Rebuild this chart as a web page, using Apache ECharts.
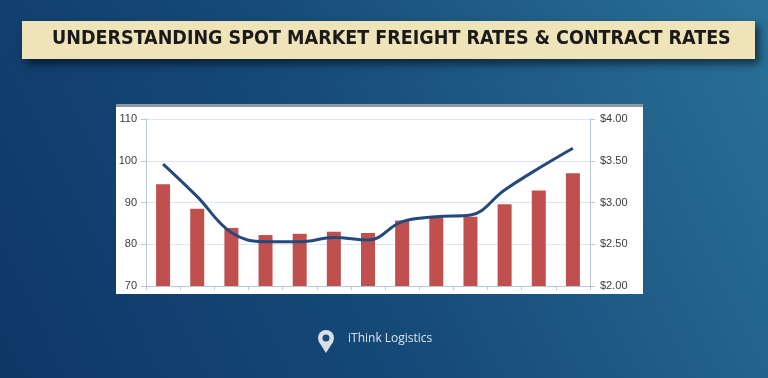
<!DOCTYPE html>
<html>
<head>
<meta charset="utf-8">
<script src="https://cdn.jsdelivr.net/npm/echarts@6/dist/echarts.min.js"></script>
<style>
html,body{margin:0;padding:0;}
#chart{width:768px;height:378px;}
</style>
</head>
<body>
<div id="chart"></div>
<script>
var titleText = "UNDERSTANDING SPOT MARKET FREIGHT RATES & CONTRACT RATES";
var brandText = "iThink Logistics";
var categories = ["1","2","3","4","5","6","7","8","9","10","11","12","13"];
var barValues = [94.4, 88.5, 83.9, 82.2, 82.5, 83.0, 82.7, 85.7, 86.3, 86.6, 89.6, 92.9, 97.0];
var lineValues = [3.46, 3.07, 2.64, 2.53, 2.53, 2.58, 2.55, 2.77, 2.83, 2.85, 3.15, 3.41, 3.65];
var leftTicks = {min: 70, max: 110, interval: 10};
var rightTicks = {min: 2, max: 4, interval: 0.5};

var chart = echarts.init(document.getElementById('chart'), null, {renderer: 'canvas'});
var labelFont = {color: '#3a3a3a', fontSize: 11, fontFamily: 'Liberation Sans, Arial, sans-serif'};
chart.setOption({
  animation: false,
  backgroundColor: {
    type: 'linear', x: 0, y: 1, x2: 1, y2: 0,
    colorStops: [{offset: 0, color: '#0e3766'}, {offset: 0.45, color: '#164a78'}, {offset: 1, color: '#2a7198'}]
  },
  graphic: [
    {type: 'rect', z: 0, shape: {x: 22, y: 21, width: 733, height: 38},
      style: {fill: '#efe4b9', shadowBlur: 8, shadowOffsetX: 4, shadowOffsetY: 5, shadowColor: 'rgba(0,0,0,0.55)'}},
    {type: 'text', z: 1, left: 52, top: 29,
      style: {text: titleText, fill: '#1a1a1a', font: 'bold 19.5px "DejaVu Sans Condensed", "Liberation Sans Narrow", sans-serif'}},
    {type: 'rect', z: 0, shape: {x: 116, y: 104, width: 527, height: 190}, style: {fill: '#ffffff'}},
    {type: 'rect', z: 0, shape: {x: 116, y: 104, width: 527, height: 3}, style: {fill: '#8f979f'}},
    {type: 'group', z: 1, left: 318, top: 330, children: [
      {type: 'circle', shape: {cx: 10, cy: 9, r: 8}, style: {fill: '#d8dfe6'}},
      {type: 'polygon', shape: {points: [[3, 13], [17, 13], [10, 24]]}, style: {fill: '#d8dfe6'}},
      {type: 'circle', shape: {cx: 10, cy: 9, r: 3.5}, style: {fill: '#1a4c7a'}}
    ]},
    {type: 'text', z: 1, left: 348, top: 333,
      style: {text: brandText, fill: '#dde5ee', font: '12px "Open Sans", sans-serif'}}
  ],
  grid: {left: 146, right: 178, top: 119, bottom: 92, containLabel: false},
  xAxis: {
    type: 'category', data: categories, boundaryGap: true,
    axisLine: {show: true, lineStyle: {color: '#b9c7d8'}},
    axisTick: {show: true, length: 4, lineStyle: {color: '#b9c7d8'}},
    axisLabel: {show: false}
  },
  yAxis: [
    {type: 'value', position: 'left', min: leftTicks.min, max: leftTicks.max, interval: leftTicks.interval,
      axisLine: {show: true, lineStyle: {color: '#b9c7d8'}},
      axisTick: {show: true, length: 5, lineStyle: {color: '#b9c7d8'}},
      axisLabel: Object.assign({margin: 9}, labelFont),
      splitLine: {show: true, lineStyle: {color: '#dde6f1'}}},
    {type: 'value', position: 'right', min: rightTicks.min, max: rightTicks.max, interval: rightTicks.interval,
      axisLine: {show: true, lineStyle: {color: '#b9c7d8'}},
      axisTick: {show: true, length: 5, lineStyle: {color: '#b9c7d8'}},
      axisLabel: Object.assign({margin: 10, formatter: function (v) { return '$' + v.toFixed(2); }}, labelFont),
      splitLine: {show: false}}
  ],
  series: [
    {type: 'bar', yAxisIndex: 0, data: barValues, barWidth: 14,
      itemStyle: {color: '#c0504d'}},
    {type: 'line', yAxisIndex: 1, data: lineValues, smooth: 0.4, symbol: 'none',
      lineStyle: {color: '#24497c', width: 3}}
  ]
});
</script>
</body>
</html>
